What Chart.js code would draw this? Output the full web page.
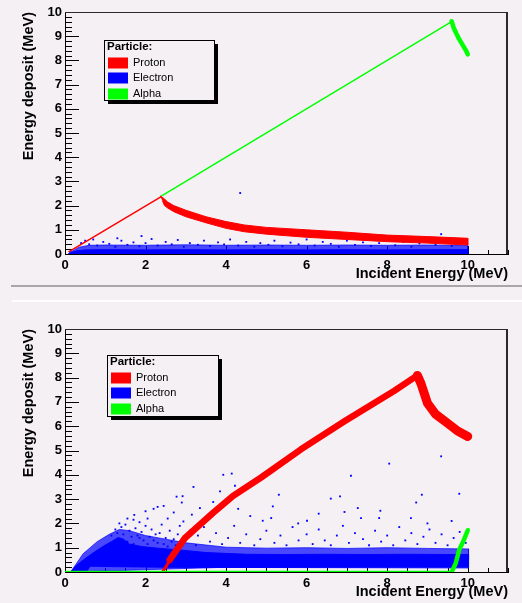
<!DOCTYPE html>
<html>
<head>
<meta charset="utf-8">
<script src="https://cdn.jsdelivr.net/npm/chart.js@4.4.0/dist/chart.umd.min.js"></script>
<style>
    html, body { margin: 0; padding: 0; background: #f4f0f4; }
    body { width: 522px; height: 603px; position: relative; overflow: hidden; }
    canvas { position: absolute; left: 0; }
    #chartTop { top: 0; }
    #chartBottom { top: 302px; }
    #divider { position: absolute; left: 11px; top: 285px; width: 511px; height: 2px; background: #a8a6a8; }
    #gap { position: absolute; left: 12px; top: 300px; width: 510px; height: 2px; background: #ffffff; }
</style>
</head>
<body>
<canvas id="chartTop" width="522" height="285"></canvas>
<div id="divider"></div>
<div id="gap"></div>
<canvas id="chartBottom" width="522" height="301"></canvas>
<script>
// Axis ticks and legend entries
const xTicks = [0, 2, 4, 6, 8, 10];
const yTicks = [0, 1, 2, 3, 4, 5, 6, 7, 8, 9, 10];
const particles = ['Proton', 'Electron', 'Alpha'];
const particleColors = ['#ff0000', '#0000ff', '#00ff00'];

// ---- Top pad: [incident energy, energy deposit] in MeV ----
const protonStopA = [[0.1, 0.1], [2.38, 2.36]];
const alphaStopA = [[2.38, 2.38], [9.6, 9.6]];
const protonPunchA = [
    [2.36, 2.4], [2.45, 2.3], [2.55, 2.15], [2.7, 2.0], [3.0, 1.81], [3.5, 1.54], [4.0, 1.34],
    [4.45, 1.2], [5.0, 1.1], [6.0, 1.0], [7.0, 0.9], [8.0, 0.78], [9.0, 0.72], [10.0, 0.65],
    [10.0, 0.37], [9.0, 0.45], [8.0, 0.51], [7.0, 0.6], [6.0, 0.69], [5.0, 0.82], [4.45, 0.92],
    [4.0, 1.06], [3.5, 1.29], [3.0, 1.54], [2.7, 1.75], [2.55, 1.9], [2.47, 2.0], [2.42, 2.2]
];
const alphaPunchA = [[9.6, 9.62], [9.65, 9.35], [9.72, 9.1], [9.78, 8.9], [9.88, 8.62], [9.96, 8.4], [10.0, 8.25]];
const electronCoreA = [
    [0.08, 0], [0.15, 0.06], [0.3, 0.13], [0.5, 0.17], [1, 0.18], [2, 0.17], [3, 0.18], [4, 0.17],
    [5, 0.18], [6, 0.17], [7, 0.18], [8, 0.17], [9, 0.18], [10, 0.18], [10, 0], [0.08, 0]
];
const electronHaloA = [
    [0.1, 0], [0.2, 0.14], [0.35, 0.28], [0.6, 0.36], [1, 0.37], [2, 0.36], [3, 0.38], [4, 0.36],
    [5, 0.37], [6, 0.36], [7, 0.37], [8, 0.36], [9, 0.37], [10, 0.35], [10, 0.1], [0.1, 0.1]
];
const electronDotsA = [
    [0.4, 0.45], [0.5, 0.55], [0.6, 0.4], [0.7, 0.6], [0.8, 0.35], [0.95, 0.5], [1.1, 0.42], [1.25, 0.3],
    [1.4, 0.55], [1.55, 0.38], [1.7, 0.48], [1.85, 0.32], [1.9, 0.74], [2.0, 0.45], [2.15, 0.62], [2.3, 0.35],
    [2.5, 0.5], [2.65, 0.4], [2.8, 0.58], [2.95, 0.3], [3.1, 0.45], [3.3, 0.38], [3.45, 0.55], [3.6, 0.33],
    [3.8, 0.48], [3.95, 0.4], [4.1, 0.6], [4.3, 0.35], [4.5, 0.5], [4.7, 0.3], [4.85, 0.45], [5.05, 0.38],
    [5.2, 0.55], [5.4, 0.32], [5.6, 0.47], [5.8, 0.4], [6.0, 0.6], [6.2, 0.35], [6.4, 0.5], [6.6, 0.42],
    [6.8, 0.3], [7.0, 0.55], [7.2, 0.38], [7.4, 0.48], [7.6, 0.33], [7.8, 0.45], [8.0, 0.58], [8.2, 0.36],
    [8.4, 0.5], [8.6, 0.3], [8.8, 0.44], [9.0, 0.55], [9.2, 0.38], [9.4, 0.48], [9.6, 0.33], [9.8, 0.45],
    [4.35, 2.52], [9.34, 0.82], [1.3, 0.65]
];

// ---- Bottom pad ----
const protonLowB = [[2.42, 0], [2.5, 0.2], [2.62, 0.55]];
const protonRiseB = [[2.6, 0.5], [2.98, 1.4], [3.68, 2.44], [4.17, 3.13], [4.87, 3.89], [5.86, 5.05], [6.94, 6.2], [8.18, 7.46], [8.75, 8.09]];
const protonFallB = [[8.75, 8.09], [8.84, 7.75], [9.0, 6.95], [9.2, 6.5], [9.5, 6.12], [9.75, 5.8], [10.0, 5.58]];
const alphaFloorB = [[0, 0], [9.6, 0]];
const alphaRiseB = [[9.6, 0], [9.7, 0.35], [9.79, 0.92], [9.9, 1.3], [10.0, 1.72]];
const electronCoreB = [
    [0.14, 0], [0.3, 0.3], [0.58, 0.65], [0.8, 0.9], [0.99, 1.1], [1.15, 1.25], [1.32, 1.42], [1.45, 1.35],
    [1.6, 1.15], [1.9, 1.05], [2.3, 0.98], [2.9, 0.9], [3.5, 0.8], [4.5, 0.73], [5.5, 0.72], [6.5, 0.73],
    [7.5, 0.72], [8.5, 0.73], [9.5, 0.72], [10.02, 0.72], [10.02, 0.17], [3, 0.19], [1.2, 0.22], [0.62, 0.24],
    [0.55, 0.05], [0.5, 0], [0.14, 0]
];
const electronHaloB = [
    [0.14, 0], [0.45, 0.75], [0.8, 1.25], [1.1, 1.55], [1.35, 1.75], [1.6, 1.7], [2.0, 1.5], [2.5, 1.35],
    [3.0, 1.2], [4, 1.02], [5, 0.98], [6, 1.0], [7, 0.97], [8, 1.0], [9, 0.97], [10.02, 0.95],
    [10.02, 0.5], [0.14, 0]
];
const electronDotsB = [
    [1.55, 2.2], [1.7, 2.15], [1.72, 2.35], [1.85, 2.05], [2.0, 2.5], [2.05, 2.2], [2.2, 2.6], [2.3, 2.68],
    [2.45, 2.72], [2.55, 2.2], [2.7, 2.45], [2.77, 3.1], [2.92, 3.12], [2.9, 2.86], [2.94, 2.08], [3.15, 2.36],
    [3.19, 3.5], [3.35, 2.63], [3.52, 2.2], [3.68, 2.88], [3.85, 3.32], [3.93, 4.0], [4.14, 4.05], [4.22, 3.55],
    [4.3, 2.6], [4.6, 2.3], [4.91, 2.11], [5.12, 2.22], [5.16, 2.7], [5.31, 3.18], [5.79, 2.0], [6.01, 2.11],
    [6.3, 2.4], [6.6, 3.02], [6.83, 3.11], [6.94, 2.47], [7.1, 3.96], [7.27, 2.63], [7.35, 2.22], [7.8, 2.22],
    [7.83, 2.52], [8.05, 4.46], [8.59, 2.22], [8.72, 2.86], [8.86, 3.18], [9.34, 4.76], [9.79, 3.22], [9.6, 2.1],
    [9.0, 2.0],
    [1.3, 1.6], [1.4, 1.85], [1.45, 1.55], [1.5, 1.95], [1.6, 1.7], [1.65, 1.45], [1.75, 1.8], [1.8, 1.5],
    [1.9, 1.65], [1.95, 1.3], [2.0, 1.9], [2.1, 1.45], [2.15, 1.75], [2.25, 1.55], [2.3, 1.2], [2.4, 1.95],
    [2.5, 1.4], [2.6, 1.7], [2.65, 1.25], [2.8, 1.55], [2.85, 1.9], [3.0, 1.3], [3.1, 1.7], [3.25, 1.1],
    [3.3, 1.5], [3.45, 1.85], [3.6, 1.25], [3.75, 1.6], [3.9, 1.15], [4.05, 1.4], [4.2, 1.9], [4.35, 1.2],
    [4.5, 1.55], [4.7, 1.1], [4.85, 1.35], [5.0, 1.7], [5.2, 1.2], [5.35, 1.5], [5.5, 1.1], [5.65, 1.85],
    [5.8, 1.3], [6.0, 1.55], [6.15, 1.15], [6.3, 1.75], [6.45, 1.3], [6.6, 1.1], [6.75, 1.5], [6.9, 1.9],
    [7.05, 1.2], [7.2, 1.6], [7.4, 1.35], [7.55, 1.1], [7.7, 1.7], [7.85, 1.25], [8.0, 1.5], [8.15, 1.1],
    [8.3, 1.85], [8.45, 1.3], [8.6, 1.6], [8.75, 1.15], [8.9, 1.45], [9.05, 1.75], [9.2, 1.2], [9.35, 1.55],
    [9.5, 1.1], [9.65, 1.4], [9.8, 1.65], [9.95, 1.2],
    [1.55, 1.25], [1.7, 1.15], [1.85, 1.4], [2.05, 1.15], [2.2, 1.3], [2.35, 1.6], [2.45, 1.15], [2.55, 1.05],
    [2.7, 1.35], [2.75, 1.1], [1.25, 1.75], [1.15, 1.5], [1.35, 2.0]
];

const pts = arr => arr.map(([x, y]) => ({ x, y }));

function band(data, color, order) {
    return { data: pts(data), borderColor: color, backgroundColor: color, borderWidth: 1,
        fill: 'shape', pointRadius: 0, tension: 0, order };
}
function track(data, color, width, order) {
    return { data: pts(data), borderColor: color, borderWidth: width, fill: false, pointRadius: 0,
        borderJoinStyle: 'round', borderCapStyle: 'round', tension: 0, order };
}
function dots(data, color, order) {
    return { data: pts(data), showLine: false, fill: false, pointStyle: 'rect', pointRadius: 1.3,
        pointBackgroundColor: color, pointBorderWidth: 0, order };
}

// ROOT-like frame, inward ticks and boxed legend
const rootStyle = {
    id: 'rootStyle',
    beforeDatasetsDraw(chart) {
        const { ctx, chartArea: a, scales: { x, y } } = chart;
        ctx.save();
        ctx.strokeStyle = '#000';
        ctx.lineWidth = 1;
        ctx.beginPath();
        for (let i = 0; i <= 50; i++) {
            const py = Math.round(y.getPixelForValue(i * 0.2)) + 0.5;
            ctx.moveTo(a.left, py);
            ctx.lineTo(a.left + (i % 5 === 0 ? 14 : 7), py);
        }
        for (let i = 0; i <= 22; i++) {
            const px = Math.round(x.getPixelForValue(i * 0.5)) + 0.5;
            ctx.moveTo(px, a.bottom);
            ctx.lineTo(px, a.bottom - (i % 4 === 0 ? 8 : 4));
        }
        ctx.stroke();
        ctx.strokeStyle = '#2a2a2a';
        ctx.beginPath();
        ctx.moveTo(a.left, a.top + 0.5);
        ctx.lineTo(a.right, a.top + 0.5);
        ctx.stroke();
        ctx.lineWidth = 2;
        ctx.beginPath();
        ctx.moveTo(a.right - 1, a.top);
        ctx.lineTo(a.right - 1, a.bottom);
        ctx.stroke();
        ctx.restore();
    },
    afterDraw(chart, args, opts) {
        const { ctx } = chart;
        const b = opts.box;
        ctx.save();
        ctx.fillStyle = '#000';
        ctx.fillRect(b.left + 4, b.top + 4, b.width, b.height);
        ctx.fillStyle = '#f4f0f4';
        ctx.fillRect(b.left, b.top, b.width, b.height);
        ctx.strokeStyle = '#000';
        ctx.lineWidth = 1;
        ctx.strokeRect(b.left + 0.5, b.top + 0.5, b.width, b.height);
        ctx.textBaseline = 'middle';
        ctx.fillStyle = '#000';
        ctx.font = 'bold 11.5px "Liberation Sans", Arial, sans-serif';
        ctx.fillText('Particle:', b.left + 3, b.top + 7);
        ctx.font = '11px "Liberation Sans", Arial, sans-serif';
        const rows = [23, 38, 54];
        particles.forEach((name, i) => {
            ctx.fillStyle = particleColors[i];
            ctx.fillRect(b.left + 4, b.top + rows[i] - 5.5, 20, 11);
            ctx.fillStyle = '#000';
            ctx.fillText(name, b.left + 29, b.top + rows[i]);
        });
        ctx.restore();
    }
};

const tickFont = { family: '"Liberation Sans", Arial, sans-serif', size: 13, weight: 'bold' };
const titleFont = { family: '"Liberation Sans", Arial, sans-serif', size: 14.5, weight: 'bold' };

function makeChart(id, datasets, frame) {
    return new Chart(document.getElementById(id), {
        type: 'line',
        data: { datasets },
        plugins: [rootStyle],
        options: {
            responsive: false,
            animation: false,
            events: [],
            layout: { padding: { left: 0, top: frame.top, right: 14, bottom: 0 } },
            plugins: {
                legend: { display: false },
                tooltip: { enabled: false },
                rootStyle: { box: frame.legend }
            },
            scales: {
                x: {
                    type: 'linear', min: 0, max: 11,
                    afterBuildTicks: s => { s.ticks = xTicks.map(v => ({ value: v })); },
                    afterFit: s => { s.height = frame.xAxisHeight; },
                    grid: { display: false, drawTicks: false },
                    border: { display: true, color: '#000', width: 1 },
                    ticks: { font: tickFont, color: '#000', padding: 4, maxRotation: 0 },
                    title: { display: true, text: 'Incident Energy (MeV)', align: 'end', color: '#000',
                        font: titleFont, padding: { top: 0, bottom: 2 } }
                },
                y: {
                    type: 'linear', min: 0, max: 10,
                    afterBuildTicks: s => { s.ticks = yTicks.map(v => ({ value: v })); },
                    afterFit: s => { s.width = 65; },
                    grid: { display: false, drawTicks: false },
                    border: { display: true, color: '#000', width: 1 },
                    ticks: { font: tickFont, color: '#000', padding: 3 },
                    title: { display: true, text: 'Energy deposit (MeV)', align: 'end', color: '#000',
                        font: titleFont, padding: { top: 20, bottom: 0 } }
                }
            }
        }
    });
}

makeChart('chartTop', [
    band(electronHaloA, 'rgba(0,0,255,0.7)', 9),
    band(electronCoreA, '#0000ff', 8),
    dots(electronDotsA, '#0000ff', 7),
    track(protonStopA, '#ff0000', 1.5, 5),
    track(alphaStopA, '#00ff00', 1.5, 5),
    band(protonPunchA, '#ff0000', 3),
    track(alphaPunchA, '#00ff00', 4.5, 2)
], { top: 12, xAxisHeight: 31, legend: { left: 104, top: 40, width: 110, height: 60 } });

makeChart('chartBottom', [
    band(electronHaloB, 'rgba(0,0,255,0.7)', 9),
    band(electronCoreB, '#0000ff', 8),
    dots(electronDotsB, '#0000ff', 7),
    track(protonLowB, '#ff0000', 3, 4),
    track(protonRiseB, '#ff0000', 6.5, 3),
    track(protonFallB, '#ff0000', 9, 3),
    track(alphaFloorB, '#00ff00', 2.5, 2),
    track(alphaRiseB, '#00ff00', 4.5, 1)
], { top: 27, xAxisHeight: 31, legend: { left: 107, top: 53, width: 111, height: 61 } });
</script>
</body>
</html>
